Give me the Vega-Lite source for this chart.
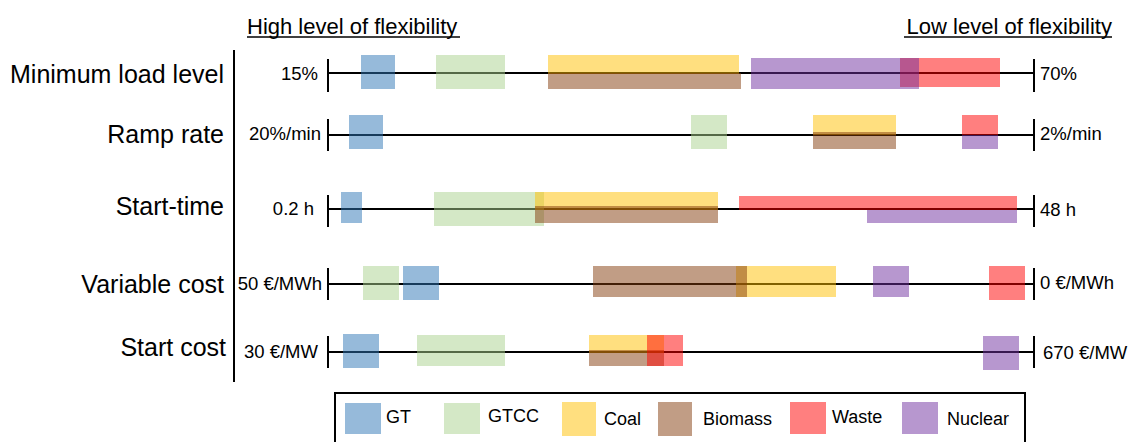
{
  "$schema": "https://vega.github.io/schema/vega-lite/v6.json",
  "width": 1135,
  "height": 442,
  "padding": 0,
  "autosize": {"type": "none"},
  "background": "white",
  "config": {"view": {"stroke": null}, "font": "Liberation Sans", "text": {"font": "Liberation Sans", "color": "black"}},
  "datasets": {
    "lines": [
      {"row": "Minimum load level", "x": 328, "x2": 1034, "y": 73},
      {"row": "Ramp rate", "x": 328, "x2": 1034, "y": 135},
      {"row": "Start-time", "x": 328, "x2": 1034, "y": 209},
      {"row": "Variable cost", "x": 328, "x2": 1034, "y": 284},
      {"row": "Start cost", "x": 328, "x2": 1034, "y": 352}
    ],
    "ticks": [
      {"x": 328, "y": 59, "y2": 92}, {"x": 1034, "y": 59, "y2": 92},
      {"x": 328, "y": 119, "y2": 151}, {"x": 1034, "y": 119, "y2": 151},
      {"x": 328, "y": 195, "y2": 227}, {"x": 1034, "y": 195, "y2": 227},
      {"x": 328, "y": 268, "y2": 300}, {"x": 1034, "y": 268, "y2": 300},
      {"x": 328, "y": 336, "y2": 368}, {"x": 1034, "y": 336, "y2": 368},
      {"x": 234, "y": 50, "y2": 382}
    ],
    "underlines": [
      {"x": 247, "x2": 460, "y": 37},
      {"x": 904, "x2": 1112, "y": 37}
    ],
    "bars": [
      {"row": "Minimum load level", "tech": "GT", "x": 361, "x2": 395, "y": 55, "y2": 89},
      {"row": "Minimum load level", "tech": "GTCC", "x": 436, "x2": 505, "y": 55, "y2": 89},
      {"row": "Minimum load level", "tech": "Coal", "x": 548, "x2": 739, "y": 55, "y2": 74},
      {"row": "Minimum load level", "tech": "Biomass", "x": 548, "x2": 741, "y": 73, "y2": 89},
      {"row": "Minimum load level", "tech": "Waste", "x": 900, "x2": 1000, "y": 58, "y2": 87},
      {"row": "Minimum load level", "tech": "Nuclear", "x": 751, "x2": 919, "y": 58, "y2": 89},
      {"row": "Ramp rate", "tech": "GT", "x": 349, "x2": 383, "y": 115, "y2": 149},
      {"row": "Ramp rate", "tech": "GTCC", "x": 691, "x2": 727, "y": 115, "y2": 149},
      {"row": "Ramp rate", "tech": "Coal", "x": 813, "x2": 896, "y": 115, "y2": 135},
      {"row": "Ramp rate", "tech": "Biomass", "x": 813, "x2": 896, "y": 132, "y2": 149},
      {"row": "Ramp rate", "tech": "Waste", "x": 962, "x2": 998, "y": 115, "y2": 135},
      {"row": "Ramp rate", "tech": "Nuclear", "x": 962, "x2": 998, "y": 135, "y2": 149},
      {"row": "Start-time", "tech": "GT", "x": 341, "x2": 362, "y": 192, "y2": 223},
      {"row": "Start-time", "tech": "GTCC", "x": 434, "x2": 544, "y": 192, "y2": 226},
      {"row": "Start-time", "tech": "Coal", "x": 535, "x2": 718, "y": 192, "y2": 210},
      {"row": "Start-time", "tech": "Biomass", "x": 535, "x2": 718, "y": 206, "y2": 223},
      {"row": "Start-time", "tech": "Waste", "x": 739, "x2": 1017, "y": 196, "y2": 210},
      {"row": "Start-time", "tech": "Nuclear", "x": 867, "x2": 1017, "y": 210, "y2": 223},
      {"row": "Variable cost", "tech": "GTCC", "x": 363, "x2": 399, "y": 266, "y2": 300},
      {"row": "Variable cost", "tech": "GT", "x": 403, "x2": 439, "y": 266, "y2": 300},
      {"row": "Variable cost", "tech": "Coal", "x": 736, "x2": 836, "y": 266, "y2": 297},
      {"row": "Variable cost", "tech": "Biomass", "x": 593, "x2": 747, "y": 266, "y2": 297},
      {"row": "Variable cost", "tech": "Nuclear", "x": 873, "x2": 909, "y": 266, "y2": 297},
      {"row": "Variable cost", "tech": "Waste", "x": 989, "x2": 1025, "y": 266, "y2": 300},
      {"row": "Start cost", "tech": "GT", "x": 343, "x2": 379, "y": 334, "y2": 368},
      {"row": "Start cost", "tech": "GTCC", "x": 417, "x2": 505, "y": 335, "y2": 366},
      {"row": "Start cost", "tech": "Coal", "x": 589, "x2": 664, "y": 335, "y2": 353},
      {"row": "Start cost", "tech": "Biomass", "x": 589, "x2": 664, "y": 350, "y2": 366},
      {"row": "Start cost", "tech": "Waste", "x": 647, "x2": 683, "y": 335, "y2": 366},
      {"row": "Start cost", "tech": "Nuclear", "x": 983, "x2": 1019, "y": 336, "y2": 370}
    ],
    "categories": [
      {"label": "Minimum load level", "x": 224, "y": 75},
      {"label": "Ramp rate", "x": 224, "y": 135},
      {"label": "Start-time", "x": 224, "y": 207},
      {"label": "Variable cost", "x": 224, "y": 285},
      {"label": "Start cost", "x": 226, "y": 348}
    ],
    "leftValues": [
      {"label": "15%", "x": 318, "y": 74},
      {"label": "20%/min", "x": 321, "y": 134},
      {"label": "0.2 h", "x": 314, "y": 209},
      {"label": "50 €/MWh", "x": 322, "y": 284},
      {"label": "30 €/MW", "x": 318, "y": 352}
    ],
    "rightValues": [
      {"label": "70%", "x": 1040, "y": 74},
      {"label": "2%/min", "x": 1040, "y": 134},
      {"label": "48 h", "x": 1040, "y": 210},
      {"label": "0 €/MWh", "x": 1040, "y": 283},
      {"label": "670 €/MW", "x": 1043, "y": 353}
    ],
    "titles": [
      {"label": "High level of flexibility", "x": 247, "y": 34, "side": "left"},
      {"label": "Low level of flexibility", "x": 1112, "y": 34, "side": "right"}
    ],
    "legendBox": [
      {"x": 335, "x2": 1025, "y": 393, "y2": 470}
    ],
    "legendSwatches": [
      {"tech": "GT", "x": 345, "x2": 381, "y": 403, "y2": 434},
      {"tech": "GTCC", "x": 444, "x2": 480, "y": 403, "y2": 434},
      {"tech": "Coal", "x": 562, "x2": 596, "y": 402, "y2": 436},
      {"tech": "Biomass", "x": 658, "x2": 692, "y": 402, "y2": 436},
      {"tech": "Waste", "x": 790, "x2": 826, "y": 402, "y2": 434},
      {"tech": "Nuclear", "x": 902, "x2": 938, "y": 402, "y2": 434}
    ],
    "legendLabels": [
      {"label": "GT", "x": 386, "y": 418},
      {"label": "GTCC", "x": 488, "y": 417},
      {"label": "Coal", "x": 604, "y": 420},
      {"label": "Biomass", "x": 703, "y": 420},
      {"label": "Waste", "x": 832, "y": 418},
      {"label": "Nuclear", "x": 947, "y": 420}
    ]
  },
  "layer": [
    {
      "data": {"name": "lines"},
      "mark": {"type": "rule", "color": "black", "strokeWidth": 2},
      "encoding": {
        "x": {"field": "x", "type": "quantitative", "scale": {"domain": [0, 1135], "nice": false, "zero": false}, "axis": null},
        "x2": {"field": "x2"},
        "y": {"field": "y", "type": "quantitative", "scale": {"domain": [0, 442], "nice": false, "zero": false, "reverse": true}, "axis": null}
      }
    },
    {
      "data": {"name": "ticks"},
      "mark": {"type": "rule", "color": "black", "strokeWidth": 2},
      "encoding": {
        "x": {"field": "x", "type": "quantitative", "axis": null},
        "y": {"field": "y", "type": "quantitative", "axis": null},
        "y2": {"field": "y2"}
      }
    },
    {
      "data": {"name": "underlines"},
      "mark": {"type": "rule", "color": "black", "strokeWidth": 1.5},
      "encoding": {
        "x": {"field": "x", "type": "quantitative", "axis": null},
        "x2": {"field": "x2"},
        "y": {"field": "y", "type": "quantitative", "axis": null}
      }
    },
    {
      "data": {"name": "bars"},
      "mark": {"type": "rect", "opacity": 0.5},
      "encoding": {
        "x": {"field": "x", "type": "quantitative", "axis": null},
        "x2": {"field": "x2"},
        "y": {"field": "y", "type": "quantitative", "axis": null},
        "y2": {"field": "y2"},
        "color": {"field": "tech", "type": "nominal", "legend": null,
          "scale": {"domain": ["GT", "GTCC", "Coal", "Biomass", "Waste", "Nuclear"],
                    "range": ["#2e75b6", "#a9d18e", "#ffc000", "#843c0c", "#ff0000", "#7030a0"]}}
      }
    },
    {
      "data": {"name": "categories"},
      "mark": {"type": "text", "align": "right", "baseline": "middle", "fontSize": 25, "color": "black"},
      "encoding": {
        "x": {"field": "x", "type": "quantitative", "axis": null},
        "y": {"field": "y", "type": "quantitative", "axis": null},
        "text": {"field": "label"}
      }
    },
    {
      "data": {"name": "leftValues"},
      "mark": {"type": "text", "align": "right", "baseline": "middle", "fontSize": 18.5, "color": "black"},
      "encoding": {
        "x": {"field": "x", "type": "quantitative", "axis": null},
        "y": {"field": "y", "type": "quantitative", "axis": null},
        "text": {"field": "label"}
      }
    },
    {
      "data": {"name": "rightValues"},
      "mark": {"type": "text", "align": "left", "baseline": "middle", "fontSize": 18.5, "color": "black"},
      "encoding": {
        "x": {"field": "x", "type": "quantitative", "axis": null},
        "y": {"field": "y", "type": "quantitative", "axis": null},
        "text": {"field": "label"}
      }
    },
    {
      "data": {"name": "titles"},
      "transform": [{"filter": "datum.side === 'left'"}],
      "mark": {"type": "text", "align": "left", "baseline": "alphabetic", "fontSize": 22, "color": "black"},
      "encoding": {
        "x": {"field": "x", "type": "quantitative", "axis": null},
        "y": {"field": "y", "type": "quantitative", "axis": null},
        "text": {"field": "label"}
      }
    },
    {
      "data": {"name": "titles"},
      "transform": [{"filter": "datum.side === 'right'"}],
      "mark": {"type": "text", "align": "right", "baseline": "alphabetic", "fontSize": 22, "color": "black"},
      "encoding": {
        "x": {"field": "x", "type": "quantitative", "axis": null},
        "y": {"field": "y", "type": "quantitative", "axis": null},
        "text": {"field": "label"}
      }
    },
    {
      "data": {"name": "legendBox"},
      "mark": {"type": "rect", "fill": null, "fillOpacity": 0, "stroke": "black", "strokeWidth": 2},
      "encoding": {
        "x": {"field": "x", "type": "quantitative", "axis": null},
        "x2": {"field": "x2"},
        "y": {"field": "y", "type": "quantitative", "axis": null},
        "y2": {"field": "y2"}
      }
    },
    {
      "data": {"name": "legendSwatches"},
      "mark": {"type": "rect", "opacity": 0.5},
      "encoding": {
        "x": {"field": "x", "type": "quantitative", "axis": null},
        "x2": {"field": "x2"},
        "y": {"field": "y", "type": "quantitative", "axis": null},
        "y2": {"field": "y2"},
        "color": {"field": "tech", "type": "nominal", "legend": null}
      }
    },
    {
      "data": {"name": "legendLabels"},
      "mark": {"type": "text", "align": "left", "baseline": "middle", "fontSize": 18, "color": "black"},
      "encoding": {
        "x": {"field": "x", "type": "quantitative", "axis": null},
        "y": {"field": "y", "type": "quantitative", "axis": null},
        "text": {"field": "label"}
      }
    }
  ]
}
